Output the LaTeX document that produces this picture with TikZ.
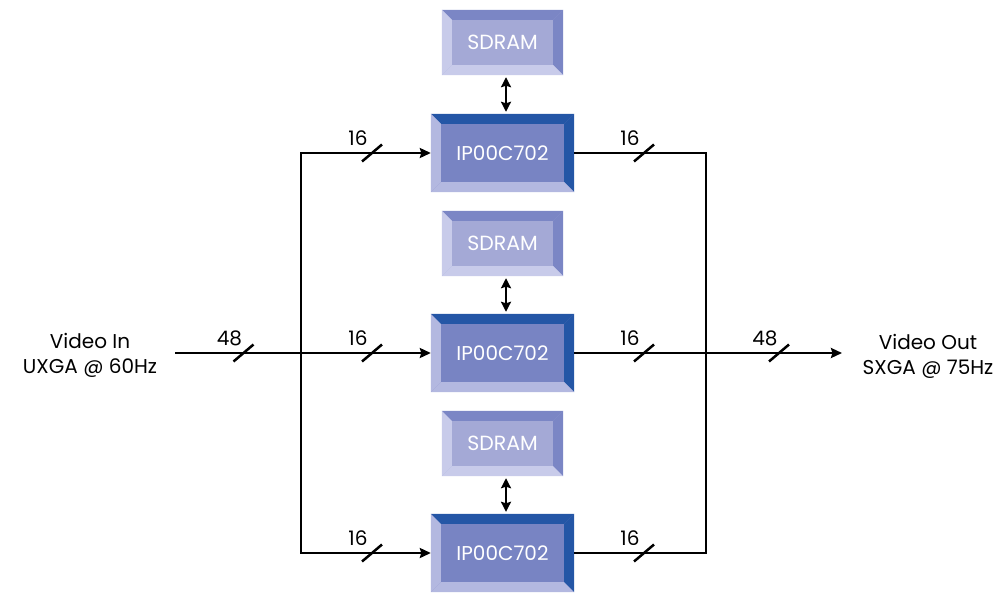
\documentclass[tikz,border=0pt]{standalone}
\usepackage{fontspec}
\setmainfont{Poppins}
\usetikzlibrary{arrows.meta}
\definecolor{sdIn}{HTML}{A4A9D6}
\definecolor{sdDark}{HTML}{7B86C5}
\definecolor{sdLight}{HTML}{C8CBEA}
\definecolor{ipIn}{HTML}{7884C3}
\definecolor{ipDark}{HTML}{2456A6}
\definecolor{ipLight}{HTML}{B3B8E0}
\tikzset{
  sdbox/.style={minimum width=121pt,minimum height=65pt,inner sep=0pt,fill=sdIn,text=white,font=\fontsize{20.5}{24}\selectfont},
  ipbox/.style={minimum width=143pt,minimum height=78pt,inner sep=0pt,fill=ipIn,text=white,font=\fontsize{20}{24}\selectfont},
  wire/.style={line width=2.5pt,line join=miter},
  arr/.style={wire,-{Stealth[length=11pt,width=10pt,inset=1.5pt]}},
  darr/.style={wire,{Stealth[length=10pt,width=10pt,inset=1.5pt]}-{Stealth[length=10pt,width=10pt,inset=1.5pt]}},
  lbl/.style={font=\fontsize{20}{25}\selectfont,inner sep=0pt},
  buslbl/.style={font=\fontsize{20}{24}\selectfont,inner sep=0pt}
}
\newcommand\bevelbox[5]{%
  \fill[#2] (#1.north west) -- (#1.north east) -- ([shift={(-10,10)}]#1.north east) -- ([shift={(10,10)}]#1.north west) -- cycle;
  \fill[#3] (#1.north east) -- (#1.south east) -- ([shift={(-10,-10)}]#1.south east) -- ([shift={(-10,10)}]#1.north east) -- cycle;
  \fill[#4] (#1.south east) -- (#1.south west) -- ([shift={(10,-10)}]#1.south west) -- ([shift={(-10,-10)}]#1.south east) -- cycle;
  \fill[#5] (#1.south west) -- (#1.north west) -- ([shift={(10,10)}]#1.north west) -- ([shift={(10,-10)}]#1.south west) -- cycle;
}
\newcommand\busmark[3]{%
  \draw[line width=2.5pt] (#1-10,#2+8.5) -- (#1+10,#2-8.5);
  \node[buslbl] at (#1-14,#2-15) {#3};
}
\begin{document}
\begin{tikzpicture}[x=1pt,y=-1pt]
\useasboundingbox (0,0) rectangle (1008,592);
% SDRAM boxes
\node[sdbox] (sd1) at (502.5,42.5) {SDRAM};
\node[sdbox] (sd2) at (502.5,243.5) {SDRAM};
\node[sdbox] (sd3) at (502.5,443.5) {SDRAM};
\foreach \n in {sd1,sd2,sd3}{\bevelbox{\n}{sdDark}{sdDark}{sdLight}{sdLight}}
% processor boxes
\node[ipbox] (ip1) at (502.5,153) {IP00C702};
\node[ipbox] (ip2) at (502.5,353) {IP00C702};
\node[ipbox] (ip3) at (502.5,553) {IP00C702};
\foreach \n in {ip1,ip2,ip3}{\bevelbox{\n}{ipDark}{ipDark}{ipLight}{ipLight}}
% memory links
\draw[darr] ([xshift=3.5pt,yshift=-2pt]sd1.south) -- ([xshift=3.5pt,yshift=2pt]ip1.north);
\draw[darr] ([xshift=3.5pt,yshift=-2pt]sd2.south) -- ([xshift=3.5pt,yshift=2pt]ip2.north);
\draw[darr] ([xshift=3.5pt,yshift=-2pt]sd3.south) -- ([xshift=3.5pt,yshift=2pt]ip3.north);
% labels
\node[lbl,align=center] (vin) at (90,355) {Video In\\UXGA @ 60Hz};
\node[lbl,align=center] (vout) at (928,356) {Video Out\\SXGA @ 75Hz};
\coordinate (inS) at (175,353);
\coordinate (split) at (301,353);
\coordinate (merge) at (706,353);
\coordinate (outE) at (842,353);
% wiring
\draw[arr] (inS) -- (ip2.west);
\draw[arr] (split) |- (ip1.west);
\draw[arr] (split) |- (ip3.west);
\draw[wire] (ip1.east) -| (merge);
\draw[wire] (ip3.east) -| (merge);
\draw[arr] (ip2.east) -- (outE);
% bus widths
\busmark{243.5}{353}{48}
\busmark{372}{153}{16}
\busmark{372}{353}{16}
\busmark{372}{553}{16}
\busmark{644}{153}{16}
\busmark{644}{353}{16}
\busmark{644}{553}{16}
\busmark{779}{353}{48}
\end{tikzpicture}
\end{document}
